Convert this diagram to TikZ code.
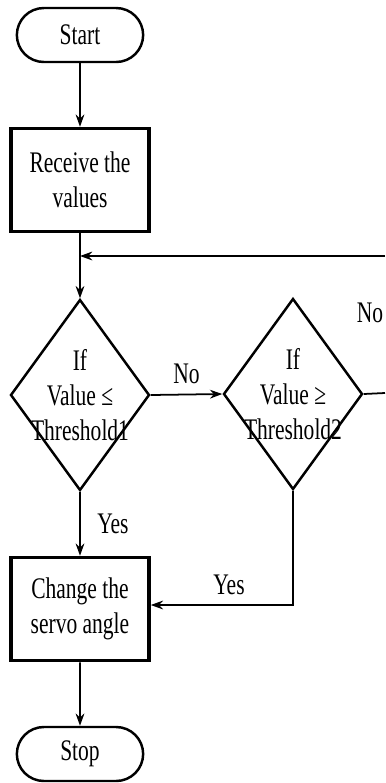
\documentclass[tikz,border=0pt]{standalone}
\usepackage{fontspec}
\setmainfont{Liberation Serif}[FakeStretch=0.72]
\usepackage{tikz}
\usetikzlibrary{arrows.meta,shapes.geometric,shapes.misc}

\begin{document}
\begin{tikzpicture}[=>Stealth,font=\fontsize{17}{20}\selectfont,
terminal/.style={draw,rounded rectangle,line width=1.4pt,minimum width=2.76cm,minimum height=1.08cm},
process/.style={draw,rectangle,line width=2pt,minimum width=2.76cm,minimum height=2.06cm,align=center},
decision/.style={draw,diamond,aspect=0.73,line width=1.4pt,minimum width=2.78cm,minimum height=3.82cm,inner sep=-20pt,align=center},
flow/.style={line width=1pt,-{Stealth[length=7pt,width=5pt]}}]
\useasboundingbox(0,0)rectangle(7.7,-15.66);
\node[terminal](start)at(1.6,-0.7){Start};
\node[process](recv)at(1.6,-3.6){Receive the\\values};
\node[decision](low)at(1.6,-7.9){If\\Value ≤\\Threshold1};
\node[decision](high)at(5.86,-7.88){If\\Value ≥\\Threshold2};
\node[process](servo)at(1.6,-12.18){Change the\\servo angle};
\node[terminal](stop)at(1.6,-15.08){Stop};
\coordinate(loopin)at(1.6,-5.12);
\coordinate(loopend)at(7.7,-5.12);
\coordinate(rightend)at(7.7,-7.86);
\coordinate(bend)at(5.86,-12.1);
\draw[flow](start)--(recv);
\draw[flow](recv)--(low);
\draw[flow](loopend)--(loopin);
\draw[flow](low.east)--node[above,yshift=2pt]{No}(high.west);
\draw[line width=1pt](high.east)--(rightend);
\path(7.4,-6.26)node(nolabel){No};
\draw[flow](low)--node[right,xshift=6pt]{Yes}(servo);
\draw[flow](high.south)--(bend)--node[above,pos=0.45,yshift=2pt]{Yes}(servo.east|-bend);
\draw[flow](servo)--(stop);
\end{tikzpicture}
\end{document}
